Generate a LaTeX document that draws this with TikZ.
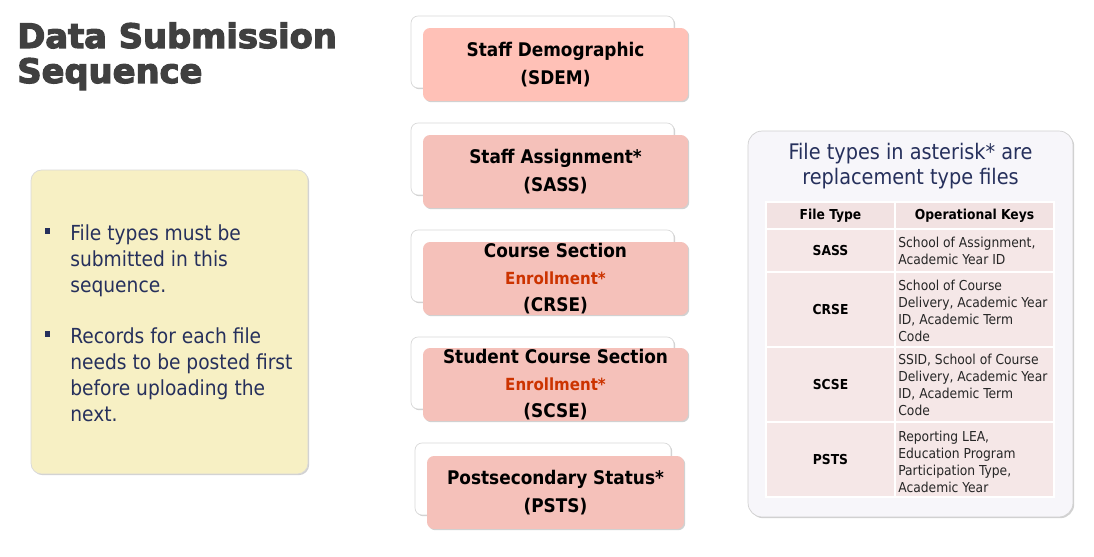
\documentclass[tikz,border=0pt]{standalone}
\usepackage{fontspec}
\setmainfont{DejaVu Sans Condensed}
\newfontfamily\titlefont[FakeBold=3.5]{DejaVu Sans Bold}
\usepackage{tikz}
\usetikzlibrary{positioning,shadows,backgrounds}
\definecolor{TitleGray}{RGB}{64,64,64}
\definecolor{InkNavy}{RGB}{38,48,92}
\definecolor{StepPinkA}{RGB}{255,193,183}
\definecolor{StepPink}{RGB}{245,193,186}
\definecolor{EnrollRed}{RGB}{204,51,0}
\definecolor{NoteYellow}{RGB}{247,240,196}
\definecolor{PanelLilac}{RGB}{247,246,250}
\definecolor{CellPink}{RGB}{245,231,231}
\definecolor{HeadPink}{RGB}{242,226,226}
\definecolor{LinkRed}{RGB}{232,150,150}
\tikzset{
  softshadow/.style={drop shadow={shadow xshift=0.7pt, shadow yshift=-0.7pt, opacity=0.18, fill=black}},
  backcard/.style={draw=black!15, fill=white, rounded corners=4pt, minimum width=5.26cm,
    minimum height=1.44cm, inner sep=0pt, softshadow},
  stepcard/.style={fill=StepPink, rounded corners=4pt, minimum width=5.3cm, minimum height=1.46cm,
    inner sep=0pt, align=center, font=\bfseries\fontsize{10.7}{15.8}\selectfont, softshadow},
  seqlink/.style={draw=LinkRed, line width=0.6pt},
  notepanel/.style={draw=black!15, fill=NoteYellow, rounded corners=6pt, minimum width=5.54cm,
    minimum height=6.08cm, softshadow},
  bulletsq/.style={fill=InkNavy, minimum size=0.11cm, inner sep=0pt},
  notetext/.style={text=InkNavy, align=left, inner sep=0pt, font=\fontsize{11.8}{14.74}\selectfont},
  keypanel/.style={draw=black!18, fill=PanelLilac, rounded corners=8pt, minimum width=6.5cm,
    minimum height=7.72cm, softshadow},
  keytitle/.style={text=InkNavy, align=center, inner sep=0pt, font=\fontsize{12.2}{14.74}\selectfont},
  tcell/.style={fill=CellPink, draw=white, line width=1.1pt, inner sep=0pt},
  typecell/.style={tcell, minimum width=2.58cm, font=\bfseries\fontsize{7.8}{9.6}\selectfont},
  keycell/.style={tcell, minimum width=3.18cm},
  keytext/.style={align=left, inner sep=0pt, text=black!85, font=\fontsize{7.8}{9.64}\selectfont},
}
\begin{document}
\begin{tikzpicture}[x=0.02cm, y=-0.02cm]
  \useasboundingbox[fill=white] (0,0) rectangle (1094,557);

  % title
  \node[anchor=base west, inner sep=0pt, text=TitleGray, font=\titlefont\fontsize{19.2}{19.8}\selectfont] (ttl1) at (17,48) {Data Submission};
  \node[anchor=base west, inner sep=0pt, text=TitleGray, font=\titlefont\fontsize{19.2}{19.8}\selectfont] (ttl2) at (17,83) {Sequence};

  % submission sequence
  \node[backcard] (bk1) at (542.5,52) {};
  \node[stepcard, fill=StepPinkA] (sdem) at (555.5,64.5) {Staff Demographic\\(SDEM)};
  \node[backcard] (bk2) at (542.5,159) {};
  \node[stepcard] (sass) at (555.5,171.5) {Staff Assignment*\\(SASS)};
  \node[backcard] (bk3) at (542.5,266) {};
  \node[stepcard, font=\bfseries\fontsize{10.7}{15.3}\selectfont] (crse) at (555.5,278.5)
    {Course Section\\{\fontsize{9.5}{15.3}\selectfont\color{EnrollRed}Enrollment*}\\(CRSE)};
  \node[backcard] (bk4) at (542.5,373) {};
  \node[stepcard, font=\bfseries\fontsize{10.7}{15.3}\selectfont] (scse) at (555.5,384.5)
    {Student Course Section\\{\fontsize{9.5}{15.3}\selectfont\color{EnrollRed}Enrollment*}\\(SCSE)};
  \node[backcard, minimum width=5.12cm] (bk5) at (543,479) {};
  \node[stepcard, minimum width=5.14cm] (psts) at (555.5,492.5) {Postsecondary Status*\\(PSTS)};

  \begin{scope}[on background layer]
    \draw[seqlink] (bk1.center) -- (bk2.center);
    \draw[seqlink] (bk2.center) -- (bk3.center);
    \draw[seqlink] (bk3.center) -- (bk4.center);
    \draw[seqlink] (bk4.center) -- (bk5.center);
  \end{scope}

  % notes (base = last line)
  \node[notepanel] (notes) at (169.5,322) {};
  \node[bulletsq] (blt1) at (47.5,231) {};
  \node[notetext, anchor=base west] (note1) at (70,292) {File types must be\\submitted in this\\sequence.};
  \node[bulletsq] (blt2) at (47.5,334) {};
  \node[notetext, anchor=base west] (note2) at (70,421) {Records for each file\\needs to be posted first\\before uploading the\\next.};

  % replacement keys
  \node[keypanel] (keys) at (910.5,324) {};
  \node[keytitle, anchor=base] (keyttl) at (910.5,185) {File types in asterisk* are\\replacement type files};

  \node[typecell, fill=HeadPink, minimum height=0.54cm] (hd-type) at (830.5,215.5) {File Type};
  \node[keycell, fill=HeadPink, minimum height=0.54cm, font=\bfseries\fontsize{7.8}{9.6}\selectfont] (hd-keys) at (974.5,215.5) {Operational Keys};
  \foreach \nm/\yc/\rowh/\yb/\keys in {
      SASS/250.5/43/264/{School of Assignment,\\Academic Year ID},
      CRSE/309.5/75/341/{School of Course\\Delivery, Academic Year\\ID, Academic Term\\Code},
      SCSE/384.5/75/415/{SSID, School of Course\\Delivery, Academic Year\\ID, Academic Term\\Code},
      PSTS/459.5/75/492/{Reporting LEA,\\Education Program\\Participation Type,\\Academic Year}} {
    \node[typecell, minimum height=\rowh*0.02cm] (ft-\nm) at (830.5,\yc) {\nm};
    \node[keycell, minimum height=\rowh*0.02cm] (ok-\nm) at (974.5,\yc) {};
    \node[keytext, anchor=base west] (kt-\nm) at (898,\yb) {\keys};
  }
\end{tikzpicture}
\end{document}
